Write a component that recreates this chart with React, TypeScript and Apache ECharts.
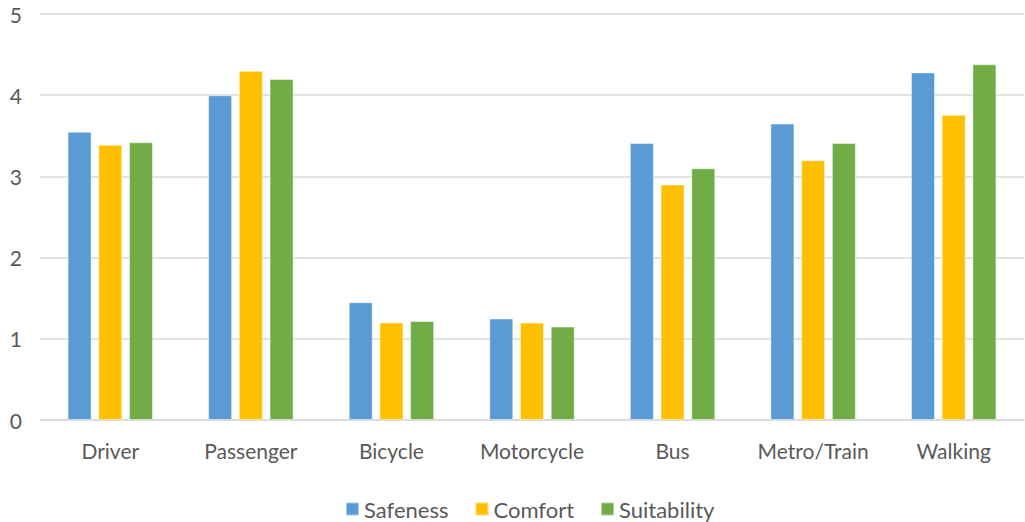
import React, { useEffect, useRef } from "react";
import * as echarts from "echarts";

const categories = ["Driver", "Passenger", "Bicycle", "Motorcycle", "Bus", "Metro/Train", "Walking"];
const safeness = [3.55, 4.0, 1.45, 1.25, 3.41, 3.65, 4.28];
const comfort = [3.39, 4.3, 1.2, 1.2, 2.9, 3.2, 3.76];
const suitability = [3.42, 4.2, 1.22, 1.15, 3.1, 3.41, 4.38];
const yTicks = [0, 1, 2, 3, 4, 5];

const FONT = "Lato, 'Noto Sans', sans-serif";
const TEXT = "#595959";

export default function App() {
  const ref = useRef<HTMLDivElement>(null);

  useEffect(() => {
    if (!ref.current) return;
    const chart = echarts.init(ref.current, null, { renderer: "svg" });
    const bar = (name: string, data: number[], color: string) => ({
      name,
      type: "bar",
      data,
      barWidth: 24,
      barGap: "28%",
      itemStyle: { color, borderColor: "rgba(255,255,255,0.45)", borderWidth: 1 },
    });
    chart.setOption({
      animation: false,
      textStyle: { fontFamily: FONT },
      grid: { left: 40, right: 1, top: 14, bottom: 102, containLabel: false },
      legend: {
        top: 497,
        padding: 0,
        left: 345,
        itemWidth: 13,
        itemHeight: 13,
        itemGap: 26,
        icon: "rect",
        textStyle: { color: TEXT, fontSize: 22, lineHeight: 24, fontFamily: FONT },
        data: ["Safeness", "Comfort", "Suitability"],
      },
      xAxis: {
        type: "category",
        data: categories,
        axisLine: { lineStyle: { color: "#d9d9d9", width: 1.5 } },
        axisTick: { show: false },
        axisLabel: { color: TEXT, fontSize: 21, margin: 20, interval: 0, fontFamily: FONT },
      },
      yAxis: {
        type: "value",
        min: yTicks[0],
        max: yTicks[yTicks.length - 1],
        interval: 1,
        axisLine: { show: false },
        axisTick: { show: false },
        axisLabel: { color: TEXT, fontSize: 21, margin: 18, fontFamily: FONT },
        splitLine: { lineStyle: { color: "#d9d9d9", width: 1.5 } },
      },
      series: [
        bar("Safeness", safeness, "#5b9bd5"),
        bar("Comfort", comfort, "#ffc000"),
        bar("Suitability", suitability, "#70ad47"),
      ],
    });
    return () => chart.dispose();
  }, []);

  return (
    <div
      ref={ref}
      style={{ position: "fixed", left: 0, top: 0, width: 1025, height: 522, background: "#fff" }}
    />
  );
}
